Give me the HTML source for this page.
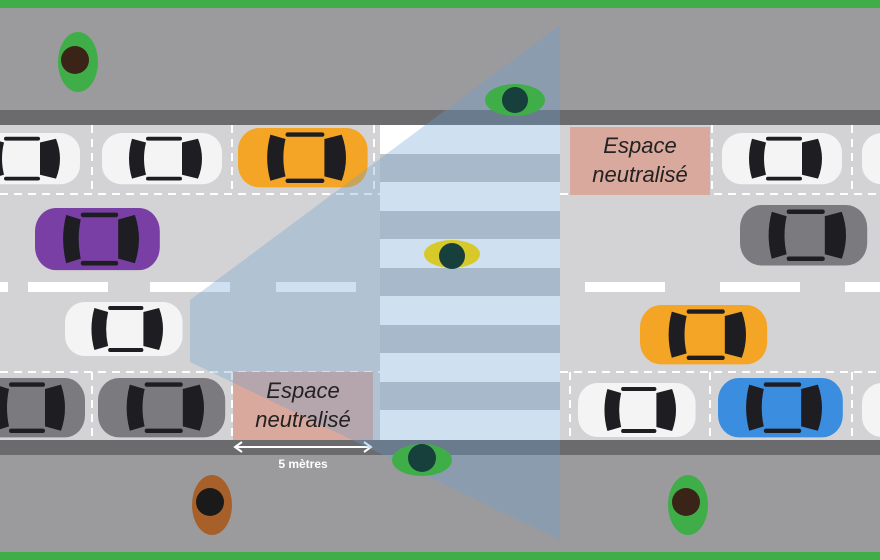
<!DOCTYPE html>
<html><head><meta charset="utf-8"><style>
html,body{margin:0;padding:0;width:880px;height:560px;overflow:hidden}
svg{display:block}
text{font-family:"Liberation Sans",sans-serif}
</style></head><body>
<svg width="880" height="560" viewBox="0 0 880 560" xmlns="http://www.w3.org/2000/svg">
<defs>
<g id="car">
<rect x="0" y="0" width="120" height="54" rx="20" fill="currentColor"/>
<path d="M30 6 Q24 27 30 48 L44 44 Q40 27 44 10 Z" fill="#1e1e22"/>
<rect x="44" y="9" width="36" height="36" rx="4" fill="currentColor"/>
<path d="M80 10 L96 6 Q104 27 96 48 L80 44 Z" fill="#1e1e22"/>
<rect x="44" y="4" width="36" height="4" rx="2" fill="#1e1e22"/>
<rect x="44" y="46" width="36" height="4" rx="2" fill="#1e1e22"/>
</g>
</defs>
<rect width="880" height="560" fill="#9b9b9e"/>
<rect y="0" width="880" height="8" fill="#3fae49"/>
<rect y="552" width="880" height="8" fill="#3fae49"/>
<rect y="110" width="880" height="15" fill="#6b6b6e"/>
<rect y="125" width="880" height="315" fill="#d3d3d5"/>
<rect y="440" width="880" height="15" fill="#6b6b6e"/>
<g stroke="#fff" stroke-width="2" stroke-dasharray="8 6" fill="none">
<line x1="0" y1="194" x2="380" y2="194"/><line x1="560" y1="194" x2="880" y2="194"/>
<line x1="0" y1="372" x2="380" y2="372"/><line x1="560" y1="372" x2="880" y2="372"/>
<line x1="92" y1="125" x2="92" y2="194"/><line x1="232" y1="125" x2="232" y2="194"/><line x1="374" y1="125" x2="374" y2="194"/>
<line x1="712" y1="125" x2="712" y2="194"/><line x1="852" y1="125" x2="852" y2="194"/>
<line x1="92" y1="372" x2="92" y2="440"/><line x1="232" y1="372" x2="232" y2="440"/>
<line x1="570" y1="372" x2="570" y2="440"/><line x1="710" y1="372" x2="710" y2="440"/><line x1="852" y1="372" x2="852" y2="440"/>
</g>
<g fill="#fff">
<rect x="0" y="282" width="8" height="10"/><rect x="28" y="282" width="80" height="10"/><rect x="150" y="282" width="80" height="10"/><rect x="276" y="282" width="80" height="10"/>
<rect x="585" y="282" width="80" height="10"/><rect x="720" y="282" width="80" height="10"/><rect x="845" y="282" width="35" height="10"/>
</g>
<rect x="380" y="125" width="180" height="315" fill="#c4c6c8"/>
<g fill="#fff">
<rect x="380" y="125" width="180" height="29"/><rect x="380" y="182" width="180" height="29"/><rect x="380" y="239" width="180" height="29"/>
<rect x="380" y="296" width="180" height="29"/><rect x="380" y="353" width="180" height="29"/><rect x="380" y="410" width="180" height="30"/>
</g>
<g color="#f4f4f4"><use href="#car" transform="translate(-40,133) scale(1,0.95)"/><use href="#car" transform="translate(102,133) scale(1,0.95)"/><use href="#car" transform="translate(722,133) scale(1,0.95)"/><use href="#car" transform="translate(862,133) scale(1,0.95)"/>
<use href="#car" transform="translate(65,302) scale(0.98,1)"/><use href="#car" transform="translate(578,383) scale(0.98,1)"/><use href="#car" transform="translate(862,383) scale(1,1)"/></g>
<g color="#f4a525"><use href="#car" transform="translate(238,128) scale(1.08,1.1)"/><use href="#car" transform="translate(640,305) scale(1.06,1.1)"/></g>
<g color="#7a3fa5"><use href="#car" transform="translate(35,208) scale(1.04,1.15)"/></g>
<g color="#7b7b7f"><use href="#car" transform="translate(740,205) scale(1.06,1.12)"/><use href="#car" transform="translate(-35,378) scale(1,1.1)"/><use href="#car" transform="translate(98,378) scale(1.06,1.1)"/></g>
<g color="#3b8de0"><use href="#car" transform="translate(718,378) scale(1.04,1.1)"/></g>
<rect x="570" y="127" width="140" height="68" fill="#d9a99d"/>
<rect x="233" y="372" width="140" height="68" fill="#d9a99d"/>
<text x="640" y="153" font-size="22" font-style="italic" text-anchor="middle" fill="#222">Espace</text>
<text x="640" y="182" font-size="22" font-style="italic" text-anchor="middle" fill="#222">neutralisé</text>
<line x1="237" y1="447" x2="369" y2="447" stroke="#fff" stroke-width="2"/>
<path d="M242 442 L235 447 L242 452 M364 442 L371 447 L364 452" stroke="#fff" stroke-width="2" fill="none"/>
<text x="303" y="468" font-size="12" font-weight="bold" text-anchor="middle" fill="#fff">5 mètres</text>
<polygon points="560,25 560,540 190,362 190,300" fill="#6b9fd0" fill-opacity="0.32"/>
<text x="303" y="398" font-size="22" font-style="italic" text-anchor="middle" fill="#222">Espace</text>
<text x="303" y="427" font-size="22" font-style="italic" text-anchor="middle" fill="#222">neutralisé</text>
<g>
<ellipse cx="78" cy="62" rx="20" ry="30" fill="#3fae49"/><circle cx="75" cy="60" r="14" fill="#3a2418"/>
<ellipse cx="515" cy="100" rx="30" ry="16" fill="#3fae49"/><circle cx="515" cy="100" r="13" fill="#173f3c"/>
<ellipse cx="452" cy="254" rx="28" ry="14" fill="#d8c92a"/><circle cx="452" cy="256" r="13" fill="#173f3c"/>
<ellipse cx="422" cy="460" rx="30" ry="16" fill="#3fae49"/><circle cx="422" cy="458" r="14" fill="#173f3c"/>
<ellipse cx="212" cy="505" rx="20" ry="30" fill="#a8602a"/><circle cx="210" cy="502" r="14" fill="#1a1a1a"/>
<ellipse cx="688" cy="505" rx="20" ry="30" fill="#3fae49"/><circle cx="686" cy="502" r="14" fill="#3a2418"/>
</g>
</svg>
</body></html>
